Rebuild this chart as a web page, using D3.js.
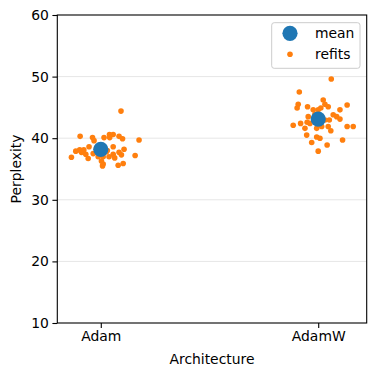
<!DOCTYPE html>
<html>
<head>
<meta charset="utf-8">
<script src="https://cdn.jsdelivr.net/npm/d3@7"></script>
<style>
  body { margin: 0; background: #fff; }
  svg { display: block; font-family: "DejaVu Sans", sans-serif; }
</style>
</head>
<body>
<div class="chart"></div>
<script>
// categories and values
var categories = ["Adam", "AdamW"];
var means = [38.2, 43.1];
var yTicks = [10, 20, 30, 40, 50, 60];

// refit perplexities, with their strip jitter (in category units)
var adamRefits = [44.4, 40.3, 40.1, 39.6, 40.1, 40.6, 40.6, 40.1, 40.3, 39.9, 39.7, 38.1, 37.7, 38.6,
  37.4, 36.7, 36.9, 37.5, 37.0, 36.3, 35.5, 35.8, 37.0, 37.4, 36.8, 37.7, 37.3, 38.2, 35.9, 35.6,
  37.2, 38.6, 37.8, 37.0, 38.1, 37.9, 38.4, 38.0];
var adamJitter = [0.093, -0.095, -0.038, -0.031, 0.015, 0.040, 0.057, 0.041, 0.084, 0.100, 0.176, -0.097, -0.089, -0.054,
  -0.069, -0.058, -0.135, -0.035, 0.011, 0.003, 0.008, 0.011, 0.038, 0.057, 0.064, 0.084, 0.095, 0.107, 0.103, 0.080,
  0.158, 0.057, 0.026, -0.012, -0.078, -0.115, -0.020, 0.030];

var adamwRefits = [49.6, 47.5, 45.5, 44.9, 45.1, 46.2, 45.5, 45.1, 45.4, 44.6, 44.6, 44.6, 43.5, 43.8,
  43.5, 43.1, 42.95, 42.95, 42.1, 42.4, 42.6, 41.6, 40.5, 40.2, 40.0, 39.3, 37.9, 38.9, 41.2, 39.7,
  41.9, 41.9, 41.9, 41.9, 42.4, 41.6, 44.9, 43.9];
var adamwJitter = [0.060, -0.087, -0.092, -0.097, -0.049, 0.023, 0.031, 0.046, 0.133, 0.100, -0.023, 0.0, -0.046, 0.069,
  0.085, 0.100, 0.051, 0.031, -0.115, -0.081, -0.051, -0.061, -0.053, -0.007, 0.008, -0.030, 0.0, 0.041, 0.058, 0.112,
  0.133, 0.161, 0.046, 0.016, -0.038, -0.007, 0.012, -0.015];

var refits = [];
adamRefits.forEach(function(v, i) { refits.push({ cat: 0, jit: adamJitter[i], value: v }); });
adamwRefits.forEach(function(v, i) { refits.push({ cat: 1, jit: adamwJitter[i], value: v }); });

var blue = "#1f77b4", orange = "#ff7f0e";
var fontSize = 13.9;

var svg = d3.select(".chart").append("svg")
    .attr("width", 376)
    .attr("height", 376);

var m = { left: 57.3, right: 366.7, top: 15, bottom: 323 };

var x = d3.scaleLinear().domain([-0.2, 1.223]).range([m.left, m.right]);
var y = d3.scaleLinear().domain([10, 60]).range([m.bottom, m.top]);

// grid
svg.append("g")
  .selectAll("line")
  .data(yTicks.slice(1, -1))
  .enter().append("line")
    .attr("x1", m.left).attr("x2", m.right)
    .attr("y1", d => y(d)).attr("y2", d => y(d))
    .attr("stroke", "#e6e6e6")
    .attr("stroke-width", 1);

// refits
svg.append("g")
  .selectAll("circle")
  .data(refits)
  .enter().append("circle")
    .attr("cx", d => x(d.cat + d.jit))
    .attr("cy", d => y(d.value))
    .attr("r", 2.8)
    .attr("fill", orange);

// means
svg.append("g")
  .selectAll("circle")
  .data(means)
  .enter().append("circle")
    .attr("cx", (d, i) => x(i))
    .attr("cy", d => y(d))
    .attr("r", 7.6)
    .attr("fill", blue);

// axes
var yAxis = d3.axisLeft(y).tickValues(yTicks).tickSize(4.9).tickPadding(3.5);
var xAxis = d3.axisBottom(x).tickValues([0, 1]).tickFormat((d, i) => categories[i]).tickSize(4.9).tickPadding(3.5);

var gy = svg.append("g").attr("transform", "translate(" + m.left + ",0)").call(yAxis);
var gx = svg.append("g").attr("transform", "translate(0," + m.bottom + ")").call(xAxis);
[gx, gy].forEach(function(g) {
  g.select(".domain").remove();
  g.selectAll(".tick line").attr("stroke", "#000").attr("stroke-width", 1.1);
  g.selectAll("text").attr("font-size", fontSize).attr("fill", "#000")
    .attr("font-family", "DejaVu Sans");
});

// frame
svg.append("rect")
    .attr("x", m.left).attr("y", m.top)
    .attr("width", m.right - m.left).attr("height", m.bottom - m.top)
    .attr("fill", "none")
    .attr("stroke", "#000")
    .attr("stroke-width", 1.1);

// labels
svg.append("text")
    .attr("x", (m.left + m.right) / 2).attr("y", 364)
    .attr("text-anchor", "middle")
    .attr("font-size", fontSize)
    .text("Architecture");

svg.append("text")
    .attr("transform", "translate(21," + ((m.top + m.bottom) / 2) + ") rotate(-90)")
    .attr("text-anchor", "middle")
    .attr("font-size", fontSize)
    .text("Perplexity");

// legend
var legend = svg.append("g");
legend.append("rect")
    .attr("x", 271.7).attr("y", 22.7)
    .attr("width", 88.3).attr("height", 45.6)
    .attr("rx", 2.5)
    .attr("fill", "#fff").attr("fill-opacity", 0.8)
    .attr("stroke", "#cccccc").attr("stroke-width", 1);

var legendItems = [
  { label: "mean", color: blue, r: 7.6 },
  { label: "refits", color: orange, r: 2.8 }
];
var li = legend.selectAll(".item")
  .data(legendItems)
  .enter().append("g")
    .attr("transform", (d, i) => "translate(0," + (33.3 + i * 21) + ")");
li.append("circle")
    .attr("cx", 290).attr("cy", 0)
    .attr("r", d => d.r)
    .attr("fill", d => d.color);
li.append("text")
    .attr("x", 315).attr("y", 0)
    .attr("dy", "0.35em")
    .attr("font-size", fontSize)
    .text(d => d.label);
</script>
</body>
</html>
